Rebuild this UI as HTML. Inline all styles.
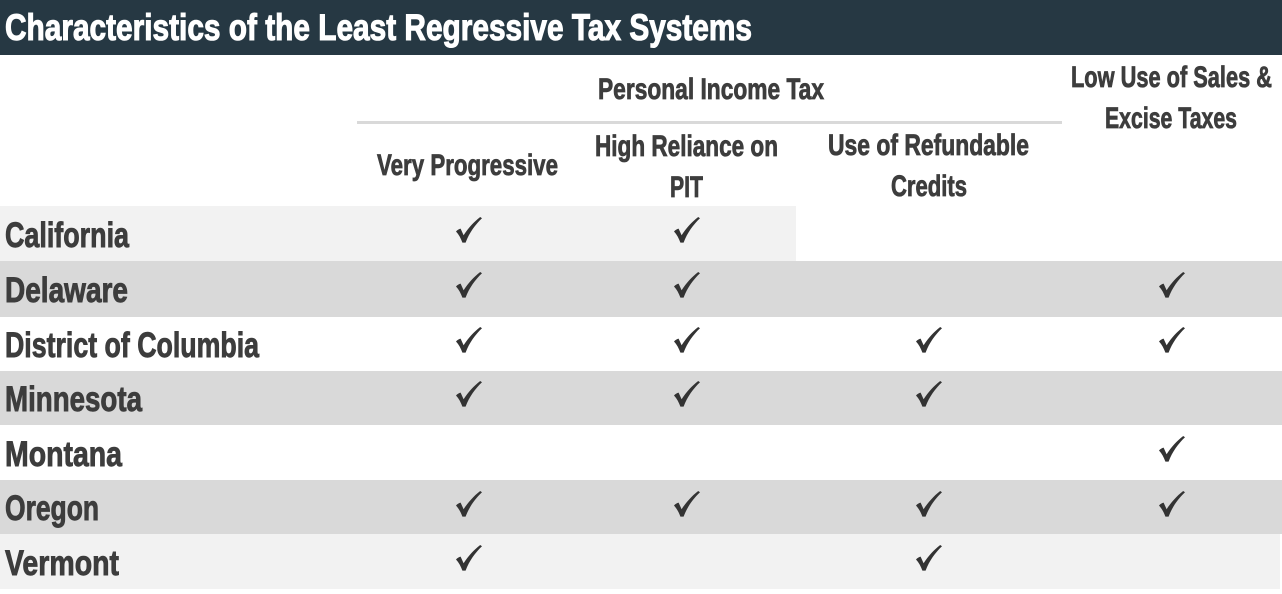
<!DOCTYPE html>
<html>
<head>
<meta charset="utf-8">
<style>
  html, body { margin:0; padding:0; background:#ffffff; }
  body { width:1282px; height:594px; overflow:hidden; }
  svg { display:block; }
  text { font-family: "Liberation Sans", Arial, sans-serif; font-weight:bold; }
  .t { fill:#ffffff; stroke:#ffffff; stroke-width:1.1px; font-size:37px; }
  .h { fill:#3d3d3d; stroke:#3d3d3d; stroke-width:0.8px; font-size:30px; }
  .r { fill:#3d3d3d; stroke:#3d3d3d; stroke-width:0.9px; font-size:35px; }
</style>
</head>
<body>
<svg width="1282" height="594" viewBox="0 0 1282 594" xmlns="http://www.w3.org/2000/svg">
  <defs>
    <path id="ck" d="M0,14.5 C1.5,12.8 3,12 4.6,11.6 L7.6,18.2 C12,11.5 17.5,5.2 24.2,0 L26,1.3 C19,8 13.5,15.5 9.6,25.6 L6.4,25.6 C4.8,21.2 2.8,17.6 0,14.5 Z" fill="#333333"/>
  </defs>

  <!-- title bar -->
  <rect x="0" y="0" width="1282" height="55" fill="#263843"/>
  <text class="t" x="5" y="40" textLength="747" lengthAdjust="spacingAndGlyphs">Characteristics of the Least Regressive Tax Systems</text>

  <!-- row backgrounds -->
  <rect x="0" y="206" width="796" height="55" fill="#f2f2f2"/>
  <rect x="0" y="261" width="1282" height="56" fill="#d9d9d9"/>
  <rect x="0" y="371" width="1282" height="54" fill="#d9d9d9"/>
  <rect x="0" y="480" width="1282" height="54" fill="#d9d9d9"/>
  <rect x="0" y="534" width="1280" height="55" fill="#f2f2f2"/>

  <!-- header -->
  <text class="h" x="598" y="99" textLength="226" lengthAdjust="spacingAndGlyphs">Personal Income Tax</text>
  <rect x="357" y="121" width="705" height="3" fill="#d9d9d9"/>
  <text class="h" x="377" y="175" textLength="181" lengthAdjust="spacingAndGlyphs">Very Progressive</text>
  <text class="h" x="595" y="156" textLength="183" lengthAdjust="spacingAndGlyphs">High Reliance on</text>
  <text class="h" x="670" y="197" textLength="33" lengthAdjust="spacingAndGlyphs">PIT</text>
  <text class="h" x="828" y="155" textLength="201" lengthAdjust="spacingAndGlyphs">Use of Refundable</text>
  <text class="h" x="891" y="196" textLength="76" lengthAdjust="spacingAndGlyphs">Credits</text>
  <text class="h" x="1071" y="87" textLength="201" lengthAdjust="spacingAndGlyphs">Low Use of Sales &amp;</text>
  <text class="h" x="1105" y="128" textLength="132" lengthAdjust="spacingAndGlyphs">Excise Taxes</text>

  <!-- row labels -->
  <text class="r" x="5" y="247" textLength="124" lengthAdjust="spacingAndGlyphs">California</text>
  <text class="r" x="5" y="302" textLength="123" lengthAdjust="spacingAndGlyphs">Delaware</text>
  <text class="r" x="5" y="357" textLength="254" lengthAdjust="spacingAndGlyphs">District of Columbia</text>
  <text class="r" x="5" y="411" textLength="137" lengthAdjust="spacingAndGlyphs">Minnesota</text>
  <text class="r" x="5" y="466" textLength="117" lengthAdjust="spacingAndGlyphs">Montana</text>
  <text class="r" x="5" y="520" textLength="94" lengthAdjust="spacingAndGlyphs">Oregon</text>
  <text class="r" x="5" y="575" textLength="114" lengthAdjust="spacingAndGlyphs">Vermont</text>

  <!-- checkmarks -->
  <use href="#ck" x="456" y="217"/>
  <use href="#ck" x="674" y="217"/>

  <use href="#ck" x="456" y="272"/>
  <use href="#ck" x="674" y="272"/>
  <use href="#ck" x="1159" y="272"/>

  <use href="#ck" x="456" y="327"/>
  <use href="#ck" x="674" y="327"/>
  <use href="#ck" x="916" y="327"/>
  <use href="#ck" x="1159" y="327"/>

  <use href="#ck" x="456" y="381"/>
  <use href="#ck" x="674" y="381"/>
  <use href="#ck" x="916" y="381"/>

  <use href="#ck" x="1159" y="436"/>

  <use href="#ck" x="456" y="491"/>
  <use href="#ck" x="674" y="491"/>
  <use href="#ck" x="916" y="491"/>
  <use href="#ck" x="1159" y="491"/>

  <use href="#ck" x="456" y="545"/>
  <use href="#ck" x="916" y="545"/>
</svg>
</body>
</html>
